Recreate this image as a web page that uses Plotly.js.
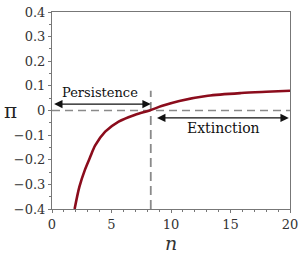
<!DOCTYPE html>
<html><head><meta charset="utf-8">
<script src="https://cdn.plot.ly/plotly-3.0.1.min.js"></script>
<style>html,body{margin:0;padding:0;background:#fff}#chart{width:304px;height:257px}</style>
</head><body><div id="chart"></div>
<script>
// curve values
const nValues  = [1.9, 2.3, 2.78, 3.2, 3.63, 4.47, 5.6, 7.0, 8.2, 9.2, 10.7, 13.1, 15.9, 18.0, 20.0];
const piValues = [-0.40, -0.31, -0.239, -0.19, -0.142, -0.086, -0.045, -0.017, 0, 0.018, 0.039, 0.06, 0.071, 0.076, 0.08];
const threshold = 8.3;
const xRange = [0, 20];
const yRange = [-0.4, 0.4];
const vLineTop = 0.08;
const labels = {persist: "Persistence", extinct: "Extinction", x: "<i>n</i>", y: "π"};

const serif = 'DejaVu Serif, serif';
const traces = [
  {x: xRange, y: [0, 0], mode: 'lines', line: {color: '#8a8a8a', width: 1.7, dash: '8px,5px'}, hoverinfo: 'skip'},
  {x: [threshold, threshold], y: [yRange[0], vLineTop], mode: 'lines', line: {color: '#8a8a8a', width: 1.8, dash: '9px,5px'}, hoverinfo: 'skip'},
  {x: nValues, y: piValues, mode: 'lines', line: {color: '#8b0c1c', width: 2.6, shape: 'spline', smoothing: 0.8}}
];
const layout = {
  width: 304, height: 257,
  margin: {l: 52, r: 14, t: 12, b: 48},
  paper_bgcolor: '#fff', plot_bgcolor: '#fff',
  showlegend: false,
  font: {family: serif, color: '#333', size: 13},
  xaxis: {range: xRange, dtick: 5, tick0: 0, showgrid: false, zeroline: false,
    showline: true, linecolor: '#777', linewidth: 1, mirror: true,
    ticks: 'outside', ticklen: 3, tickcolor: '#777',
    minor: {dtick: 1, ticks: 'outside', ticklen: 2, tickcolor: '#777', showgrid: false},
    tickfont: {family: serif, size: 13, color: '#333'},
    title: {text: labels.x, font: {family: serif, size: 19, color: '#333'}, standoff: 2}},
  yaxis: {range: yRange, dtick: 0.1, showgrid: false, zeroline: false,
    showline: true, linecolor: '#777', linewidth: 1, mirror: true,
    ticks: 'outside', ticklen: 3, tickcolor: '#777',
    minor: {dtick: 0.05, ticks: 'outside', ticklen: 2, tickcolor: '#777', showgrid: false},
    tickfont: {family: serif, size: 13, color: '#333'},
    tickformat: '.1~f'},
  annotations: [
    {x: 0, y: 0, xref: 'paper', yref: 'y', xanchor: 'right', xshift: -33, text: labels.y, showarrow: false,
     font: {family: serif, size: 20, color: '#222'}},
    {x: threshold, y: 0.026, ax: 0.05, ay: 0.026, xref: 'x', yref: 'y', axref: 'x', ayref: 'y',
     showarrow: true, arrowside: 'end+start', arrowhead: 2, arrowsize: 1.2, arrowwidth: 1.4, arrowcolor: '#111', text: ''},
    {x: 4.03, y: 0.075, xref: 'x', yref: 'y', text: labels.persist, showarrow: false,
     font: {family: serif, size: 13, color: '#111'}},
    {x: 19.9, y: -0.03, ax: 8.7, ay: -0.03, xref: 'x', yref: 'y', axref: 'x', ayref: 'y',
     showarrow: true, arrowside: 'end+start', arrowhead: 2, arrowsize: 1.2, arrowwidth: 1.4, arrowcolor: '#111', text: ''},
    {x: 14.4, y: -0.072, xref: 'x', yref: 'y', text: labels.extinct, showarrow: false,
     font: {family: serif, size: 14, color: '#111'}}
  ]
};
Plotly.newPlot('chart', traces, layout, {staticPlot: true, displayModeBar: false});
</script></body></html>
